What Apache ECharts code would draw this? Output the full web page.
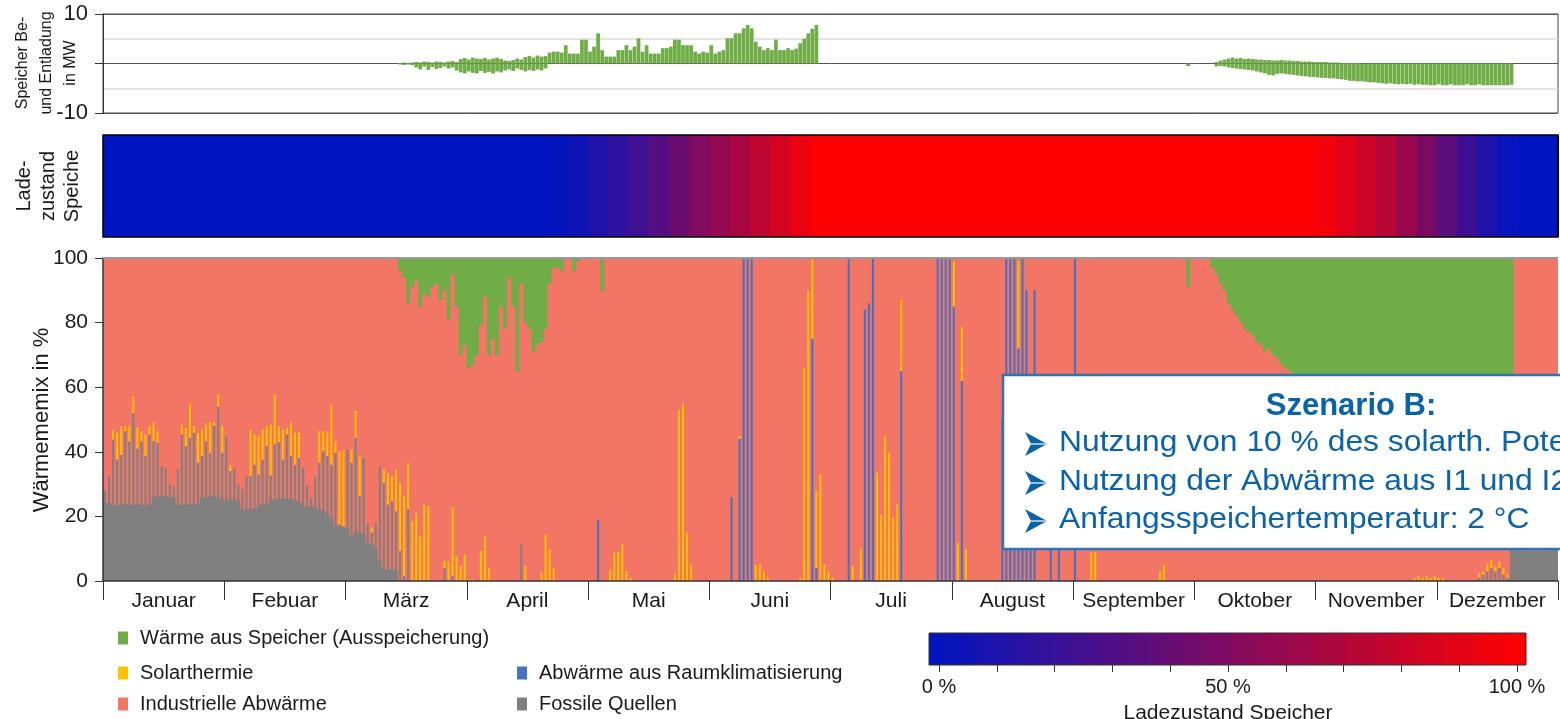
<!DOCTYPE html>
<html>
<head>
<meta charset="utf-8">
<script src="https://cdn.jsdelivr.net/npm/echarts@6/dist/echarts.min.js"></script>
<style>
html,body{margin:0;padding:0;background:#fff;}
#chart{width:1560px;height:719px;}
</style>
</head>
<body>
<div id="chart"></div>
<script>
// ---------------- DATA ----------------
const months = ['Januar','Febuar','März','April','Mai','Juni','Juli','August','September','Oktober','November','Dezember'];
const DAY_COUNT = 360;          // 12 equal-width months of 30 day columns
const SOC_BLOCK_DAYS = 5;       // state of charge read in 5-day blocks

// Speicher Be-/Entladung in MW (daily)
const springChargeStart = 73;
const springCharge = [0.1,0.2,0.1,0.2, 0.3,0.2,0.4,0.3,0.2,0.4,0.3,0.2, 0.4,0.5,0.3,
  0.9,1.1,0.8,1.2,1.0,0.9,1.1,0.8,1.0,1.2,0.9, 0.6,0.5,0.7,1.0,0.8, 1.3,1.5,1.2,1.6,1.4,1.5,
  2.2,2.4,2.4,2.2,3.7,2.0,2.0,2.0,4.8,4.8,2.4,3.4,6.1,2.7,1.4,1.4,1.4,2.7,2.7,3.7,2.7,3.4,5.1,2.4,
  3.7,2.0,2.0,2.0,3.1,3.1,3.4,4.8,4.8,3.7,3.7,3.7,2.4,2.0,2.4,2.2,3.7,2.0,2.4,2.7,5.1,5.1,6.1,6.1,
  7.1,7.8,7.1,4.4,3.4,2.7,3.1,2.7,4.8,2.7,2.7,3.1,2.7,3.0,4.1,5.0,6.1,7.0,7.8];
const springDischargeStart = 73;
const springDischarge = [-0.2,-0.3,-0.2,-0.3, -0.8,-1.2,-0.6,-1.3,-0.7,-1.1,-0.9,-0.6, -1.0,-0.8,-1.4,
  -1.8,-2.0,-1.6,-1.9,-2.0,-1.5,-1.9,-1.7,-2.0,-1.6,-1.8, -1.4,-1.2,-1.5,-1.0,-1.3, -1.6,-1.3,-1.5,-1.2,-1.4,-1.0];
const autumnChargeStart = 275;
const autumnCharge = [0.3,0.6,0.8,1.0,1.2,1.0,1.1,0.9,1.0,0.9,0.8,0.8,0.7,0.7,0.6,0.6,0.7,0.6,0.6,0.5,
  0.5,0.4,0.4,0.4,0.3,0.3,0.3,0.3,0.2,0.2,0.2,0.1,0.1,0.1,0.1,0.1];
const autumnDischargeStart = 268;
const autumnDischarge = [-0.5,0,0,0,0,0,0,
  -0.6,-0.5,-0.6,-0.8,-0.9,-1.0,-1.1,-1.2,-1.3,-1.4,-1.6,-1.8,-2.0,-2.3,-2.4,-2.1,-2.0,-2.1,-2.2,-2.3,
  -2.4,-2.5,-2.6,-2.7,-2.7,-2.8,-2.9,-2.9,-3.0,-3.0,-3.1,-3.2,-3.3,-3.5,-3.5,-3.6,-3.6,-3.7,-3.8,-3.8,
  -3.9,-4.0,-4.1,-4.0,-4.1,-4.2,-4.1,-4.2,-4.1,-4.3,-4.2,-4.3,-4.3,-4.4,
  -4.4,-4.2,-4.4,-4.4,-4.2,-4.4,-4.4,-4.4,-4.2,-4.4,-4.4,-4.2,-4.4,-4.4,-4.4,-4.4,-4.4,-4.4,-4.4,-4.3];

// Ladezustand Speicher in % (5-day blocks)
const stateOfCharge = [0,0,0,0,0,0,0,0,0,0,0,0,0,0,0,0,0,0,0,0,0,0,
  2,6,12,18,25,33,42,50,58,66,75,83,92,100,
  100,100,100,100,100,100,100,100,100,100,100,100,100,100,100,100,100,100,100,100,100,100,100,100,
  95,88,80,72,60,48,36,24,12,3,0,0];

// Wärmemix in % (daily)
const fossilBaseWinter = [24.2,24.2,23.7,23.4,23.8,24.0,23.6,23.5,23.9,23.7,23.4,23.8,26.3,26.0,26.4,26.2,25.9,26.1,
  23.7,23.5,23.9,23.6,23.8,24.0,26.0,25.8,26.1,26.3,25.9,25.3,25.0,25.5,25.2,24.8,22.4,22.0,22.6,22.3,
  23.7,23.5,24.0,25.5,25.2,25.8,25.4,25.6,25.3,25.0,24.6,23.2,23.0,23.4,22.8,22.2,21.8,21.0,19.5,
  17.0,17.2,16.8,16.5,14.0,15.2,15.0,14.8,11.9,11.5,10.3,6.2,3.6,3.8,3.5,3.4];
const fossilBaseDecStart = 348;
const fossilBaseDec = [9.6,9.5,9.8,9.4,9.7,9.6,9.5,9.8,9.6,9.4,9.7,9.6];
const fossilPeakWinter = [28,32.5,43.8,37.6,39,46.4,43.3,52,41,43.3, 38.7,45.4,43.3,42.8,35.6,35,29.9,29.2,34.5,45.4,
  41.8,44.3,45.9,36.6,38.7,43.3,39.7,48,54,39.7, 44.8,34,35,29.9,28.4,32.5,32.5,36,33,37.6,
  41.8,32.7,42.3,43,37.6,45.4,38.7,36,38.1,35, 29.4,25.8,32,36.6,40.2,38.7,36,39.7,17.5,17,
  40.7,36.6,44.3,26.3,38.1,17.5,15,18,35.6,30.4, 23.7,24.7,21.6,9.3,1.5,22.2,0,0,0,0, 0,0,0,0,4,0,1.5];
const fossilPeakOther = [[103,11.3],[340,1],[341,2],[342,3],[343,4],[344,3],[345,4],[346,2],[347,1]];
const solarWinter = [0,0,3.1,8.4,9,1.6,4.7,5,6.6,3.1, 6.7,2.6,5.7,3.6,0,0,0,0,0,3.1,
  5.6,10.7,2.1,9.3,8.2,5.5,9.5,1.2,3.7,8.3, 0,1.8,0,0,0,0,14.4,9.4,11.8,9.3,
  6.2,15.8,15.4,5,9.3,2,10.3,9.9,7.8,0, 0,0,0,9.8,6.2,7.2,18.6,3.6,22.7,23.7,
  0,4.1,8.3,12.4,0,0,1.5,0,0,4.1, 9.8,7.8,12.9,21.1,24.8,14.4,18.6,21,14,23.7,
  23.2,0,0,0,2.2,6.2,21.2,7.7,4.6,8.2, 0.5,0.5,0,9.3,14,4];
const solarOther = [[104,4.6],[108,2.6],[109,14.4],[110,9.8],[111,4],[125,3.6],[126,8.8],[127,8.8],[128,11.3],[129,3],[130,1],
  [141,2],[142,53],[143,55],[144,15],[145,5],[157,1],[161,5],[162,5],[163,3],[164,1],[172,1],[173,66],[174,90],[175,24.5],
  [176,24],[177,33],[178,5],[179,3],[180,1],[185,4.6],[187,10],[191,33.5],[192,20.6],[193,44.8],[194,39.7],[195,19.6],
  [196,23.7],[197,22],[210,14],[211,11.8],[212,16.6],[213,9.8],[226,27],[244,9],[245,9],[261,3],[262,5],
  [324,1],[325,1.5],[326,1],[327,1.5],[328,1],[329,1.5],[330,1],[331,1],
  [340,1.5],[341,1],[342,2.5],[343,2.5],[344,1.5],[345,2],[346,2],[347,1]];
const klimaDays = [[122,19],[155,26],[157,44],[158,100],[159,100],[160,100],[175,75],[176,4],[184,100],[188,84],[189,86],
  [190,100],[197,65],[206,100],[207,100],[208,100],[209,100],[210,85],[212,62],[222,50],[223,100],[224,100],[225,100],
  [226,72],[227,100],[228,90],[229,30],[230,90],[234,30],[236,25],[240,100]];
const storageSpringStart = 73;
const storageSpring = [4,6,14,9,7,15,11,12,9,8, 13,10,19,5,15,30,27,34,33,30, 21,12,30,25,30,15,22,6,15,35,
  8,20,22,29,27,26,22,8,3,3, 4,0,0,4,1,0,0,0,0,0, 10];
const storageAutumnStart = 264;
const storageAutumn = [0,0,0,0,9,0,0,0,0,0, 3,5,8,10,14,16,18,20,22,23, 24,26,27,29,28,30,31,33,34,35,
  36,37,38,39,40,41,43,44,45,46, 47,48,49,50,51,52,53,53,54,55, 56,56,57,58,58,59,59,60,60,61,
  61,62,62,62,63,63,63,64,64,64, 64,65,65,65,65,65,65,65,65,65, 65,65,65,65,60];

// ---------------- BUILD ----------------
function dense(start, values){ const a = new Array(DAY_COUNT).fill(0); values.forEach((v,i)=>{ a[start+i] = v; }); return a; }
function fromPairs(pairs){ const a = new Array(DAY_COUNT).fill(0); pairs.forEach(([d,v])=>{ a[d] = v; }); return a; }
function add(){ const arrs = Array.from(arguments); return arrs[0].map((_,i)=>arrs.reduce((s,a)=>s+a[i],0)); }

const dayCats = Array.from({length: DAY_COUNT}, (_,i)=>String(i+1));
const socCats = stateOfCharge.map((_,i)=>String(i*SOC_BLOCK_DAYS+1));

const charge = add(dense(springChargeStart, springCharge), dense(autumnChargeStart, autumnCharge));
const discharge = add(dense(springDischargeStart, springDischarge), dense(autumnDischargeStart, autumnDischarge));
const fossilBase = add(dense(0, fossilBaseWinter), dense(fossilBaseDecStart, fossilBaseDec));
const storage = add(dense(storageSpringStart, storageSpring), dense(storageAutumnStart, storageAutumn));
const industrial = fossilBase.map((f,i)=> +(100 - f - storage[i]).toFixed(2));
const fossilPeak = add(dense(0, fossilPeakWinter), fromPairs(fossilPeakOther));
const solar = add(dense(0, solarWinter), fromPairs(solarOther));
const klima = fromPairs(klimaDays);
const socData = stateOfCharge.map((v,i)=>[i,0,v]);

const FONT = '"Liberation Sans", Arial, Helvetica, sans-serif';
const C = {green:'#70AD47', solar:'#FFC000', klima:'#4472C4', ind:'#F27566', fossil:'#808080'};
const N = {green:'Wärme aus Speicher (Ausspeicherung)', solar:'Solarthermie', klima:'Abwärme aus Raumklimatisierung', ind:'Industrielle Abwärme', fossil:'Fossile Quellen'};
const TXT = '#1a1a1a';
const BOX = '#0A63A8';

function legendItem(name, left, top){
  return {data:[name], left:left, top:top, padding:0, orient:'horizontal', icon:'rect', itemWidth:10, itemHeight:13,
    selectedMode:false, textStyle:{fontFamily:FONT, fontSize:20, color:TXT, padding:[0,0,0,7], lineHeight:22}};
}
function arrowHead(cy){
  return [
    {type:'polygon', silent:true, z:101, shape:{points:[[1025,cy-12],[1047,cy],[1025,cy+12],[1031,cy]]}, style:{fill:BOX}},
    {type:'line', silent:true, z:102, shape:{x1:1031, y1:cy, x2:1046, y2:cy}, style:{stroke:'#ffffff', lineWidth:1.2}}
  ];
}
function baseLayer(name, data, color){
  return {name:name, type:'bar', xAxisIndex:2, yAxisIndex:2, stack:'base', barWidth:'100%', data:data,
    large:true, largeThreshold:50, itemStyle:{color:color}};
}
function peakLayer(name, data, color){
  return {name:name, type:'bar', xAxisIndex:3, yAxisIndex:2, stack:'peak', barWidth:'50%', data:data, itemStyle:{color:color}};
}
// state-of-charge cells: one rect per block, colour from the visualMap, 1px overlap to avoid hairline seams
function renderSocCell(params, api){
  const p = api.coord([api.value(0), api.value(1)]);
  const s = api.size([1, 1]);
  return {type:'rect', shape:{x:p[0] - s[0]/2, y:p[1] - s[1]/2, width:s[0] + 1, height:s[1]},
    style:{fill:api.visual('color')}};
}

const option = {
  animation:false,
  backgroundColor:'#fff',
  grid:[
    {left:103, top:14, width:1455, height:99, show:true, borderColor:'#444', borderWidth:1, containLabel:false, outerBoundsMode:'none'},
    {left:103, top:135, width:1455, height:102, containLabel:false, outerBoundsMode:'none'},
    {left:103, top:258, width:1455, height:323, show:true, borderWidth:0, backgroundColor:C.ind, containLabel:false, outerBoundsMode:'none'},
    {left:939, top:633, width:578, height:32, containLabel:false, outerBoundsMode:'none'}
  ],
  xAxis:[
    {gridIndex:0, type:'category', data:dayCats, show:false},
    {gridIndex:1, type:'category', data:socCats, show:false},
    {gridIndex:2, type:'category', data:dayCats, show:false},
    {gridIndex:2, type:'category', data:dayCats, show:false},
    {gridIndex:2, type:'category', data:months, position:'bottom', z:5,
      axisLine:{show:true, lineStyle:{color:'#333', width:1.5}},
      axisTick:{show:true, interval:0, length:19, lineStyle:{color:'#333'}},
      axisLabel:{interval:0, fontFamily:FONT, fontSize:21, color:TXT, margin:10}},
    {gridIndex:3, type:'value', min:0, max:100, interval:10,
      axisLine:{show:false}, splitLine:{show:false},
      axisTick:{show:true, length:7, lineStyle:{color:'#333'}},
      axisLabel:{fontFamily:FONT, fontSize:20, color:TXT, margin:12, formatter:v=> (v % 50 === 0 ? v + ' %' : '')},
      name:'Ladezustand Speicher', nameLocation:'middle', nameGap:38,
      nameTextStyle:{fontFamily:FONT, fontSize:21, color:TXT}}
  ],
  yAxis:[
    {gridIndex:0, type:'value', min:-10, max:10, interval:10,
      axisLine:{show:true, lineStyle:{color:'#333'}},
      axisTick:{show:true, length:8, lineStyle:{color:'#333'}},
      axisLabel:{fontFamily:FONT, fontSize:22, color:TXT, margin:15, formatter:v=> (v === 0 ? '' : String(v))},
      splitLine:{show:true, lineStyle:{color:'#555'}},
      minorTick:{show:false, splitNumber:2},
      minorSplitLine:{show:true, lineStyle:{color:'#dcdcdc', width:1.5}}},
    {gridIndex:1, type:'category', data:['Ladezustand'], show:false},
    {gridIndex:2, type:'value', min:0, max:100, interval:20, z:5,
      axisLine:{show:true, lineStyle:{color:'#333', width:1.5}},
      axisTick:{show:true, length:8, lineStyle:{color:'#333'}},
      axisLabel:{fontFamily:FONT, fontSize:21, color:TXT, margin:15},
      splitLine:{show:false}},
    {gridIndex:3, type:'value', show:false}
  ],
  visualMap:{type:'continuous', min:0, max:100, dimension:2, seriesIndex:2, show:false, inRange:{color:['#0015C2','#FF0000']}},
  legend:[
    legendItem(N.green, 118, 627),
    legendItem(N.solar, 118, 662),
    legendItem(N.ind, 118, 693),
    legendItem(N.klima, 517, 662),
    legendItem(N.fossil, 517, 693)
  ],
  series:[
    {name:'Beladung', type:'bar', xAxisIndex:0, yAxisIndex:0, stack:'mw', data:charge, barCategoryGap:'8%', itemStyle:{color:C.green}},
    {name:'Entladung', type:'bar', xAxisIndex:0, yAxisIndex:0, stack:'mw', data:discharge, barCategoryGap:'8%', itemStyle:{color:C.green}},
    {name:'Ladezustand', type:'custom', xAxisIndex:1, yAxisIndex:1, data:socData, encode:{x:0, y:1}, renderItem:renderSocCell},
    baseLayer(N.fossil, fossilBase, C.fossil),
    baseLayer(N.ind, industrial, C.ind),
    baseLayer(N.green, storage, C.green),
    peakLayer(N.fossil, fossilPeak, C.fossil),
    peakLayer(N.klima, klima, C.klima),
    peakLayer(N.solar, solar, C.solar)
  ],
  graphic:[
    {type:'text', x:47, y:63, rotation:Math.PI/2, silent:true,
      style:{text:'Speicher Be-\nund Entladung\nin MW', font:'16px ' + FONT, align:'center', verticalAlign:'middle', lineHeight:24, fill:TXT}},
    {type:'text', x:48, y:186, rotation:Math.PI/2, silent:true,
      style:{text:'Lade-\nzustand\nSpeiche', font:'20px ' + FONT, align:'center', verticalAlign:'middle', lineHeight:24, fill:TXT}},
    {type:'text', x:42, y:420, rotation:Math.PI/2, silent:true,
      style:{text:'Wärmememix in %', font:'22px ' + FONT, align:'center', verticalAlign:'middle', fill:TXT}},
    {type:'rect', silent:true, z:50, shape:{x:103, y:135, width:1455, height:102}, style:{fill:'none', stroke:'#000', lineWidth:1.5}},
    {type:'line', silent:true, z:50, shape:{x1:103, y1:258, x2:1558, y2:258}, style:{stroke:'#999', lineWidth:2}},
    {type:'rect', silent:true, z:50, shape:{x:929, y:633, width:597, height:32},
      style:{stroke:'#333', lineWidth:1, fill:{type:'linear', x:0, y:0, x2:1, y2:0,
        colorStops:[{offset:0, color:'#0015C2'}, {offset:1, color:'#FF0000'}]}}},
    {type:'rect', silent:true, z:100, shape:{x:1003, y:375, width:620, height:174}, style:{fill:'#fff', stroke:'#2E75B6', lineWidth:2.5}},
    {type:'text', silent:true, z:101, x:1351, y:406,
      style:{text:'Szenario B:', font:'bold 31px ' + FONT, fill:BOX, align:'center', verticalAlign:'middle'}}
  ].concat(arrowHead(444), arrowHead(483), arrowHead(521), [
    {type:'text', silent:true, z:101, x:1059, y:443, scaleX:1.06,
      style:{text:'Nutzung von 10 % des solarth. Potenzials', font:'30px ' + FONT, fill:BOX, verticalAlign:'middle'}},
    {type:'text', silent:true, z:101, x:1059, y:482, scaleX:1.06,
      style:{text:'Nutzung der Abwärme aus I1 und I2', font:'30px ' + FONT, fill:BOX, verticalAlign:'middle'}},
    {type:'text', silent:true, z:101, x:1059, y:520, scaleX:1.06,
      style:{text:'Anfangsspeichertemperatur: 2 °C', font:'30px ' + FONT, fill:BOX, verticalAlign:'middle'}}
  ])
};

const chart = echarts.init(document.getElementById('chart'), null, {renderer:'canvas'});
chart.setOption(option);
</script>
</body>
</html>
